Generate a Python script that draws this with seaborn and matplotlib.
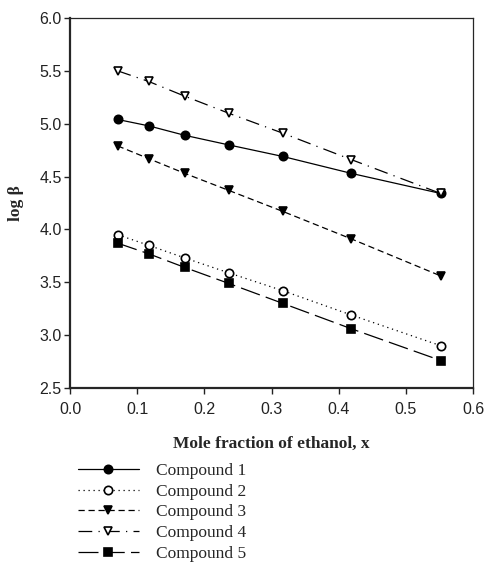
import pandas as pd
import seaborn as sns
import matplotlib.pyplot as plt

x_ethanol = [0.071, 0.117, 0.171, 0.236, 0.317, 0.419, 0.552]

compound_1 = [5.04, 4.98, 4.89, 4.80, 4.69, 4.53, 4.34]
compound_2 = [3.95, 3.85, 3.73, 3.59, 3.42, 3.19, 2.90]
compound_3 = [4.79, 4.67, 4.53, 4.37, 4.17, 3.91, 3.56]
compound_4 = [5.50, 5.40, 5.26, 5.10, 4.91, 4.66, 4.34]
compound_5 = [3.87, 3.77, 3.64, 3.49, 3.30, 3.06, 2.76]

labels = ['Compound 1', 'Compound 2', 'Compound 3', 'Compound 4', 'Compound 5']
series = [compound_1, compound_2, compound_3, compound_4, compound_5]

sns.set_style('ticks')
plt.rcParams['font.family'] = ['Liberation Sans', 'DejaVu Sans']

fig = plt.figure(figsize=(4.87, 5.69), dpi=100)
ax = fig.add_axes([70 / 487, 1 - 388 / 569, (473 - 70) / 487, (388 - 18) / 569])

# line style / marker for each compound
styles = [
    dict(linestyle='-', marker='o', mfc='black'),
    dict(linestyle=(0, (1, 3)), marker='o', mfc='white'),
    dict(linestyle=(0, (5, 3)), marker='v', mfc='black'),
    dict(linestyle=(0, (11, 5, 1, 5)), marker='v', mfc='white'),
    dict(linestyle=(0, (16, 5)), marker='s', mfc='black'),
]

for lab, vals, st in zip(labels, series, styles):
    df = pd.DataFrame({'x': x_ethanol, 'logb': vals})
    sns.lineplot(data=df, x='x', y='logb', ax=ax, color='black', linewidth=0.9,
                 linestyle=st['linestyle'], marker=st['marker'], markersize=6,
                 markerfacecolor=st['mfc'], markeredgecolor='black',
                 markeredgewidth=1.2, label=lab, legend=False)

ax.set_xlim(0, 0.6)
ax.set_ylim(2.5, 6.0)
ax.set_xticks([0.0, 0.1, 0.2, 0.3, 0.4, 0.5, 0.6])
ax.set_yticks([2.5, 3.0, 3.5, 4.0, 4.5, 5.0, 5.5, 6.0])
ax.xaxis.set_major_formatter(plt.FormatStrFormatter('%.1f'))
ax.yaxis.set_major_formatter(plt.FormatStrFormatter('%.1f'))
ax.tick_params(direction='out', length=4, width=1, labelsize=11.5,
               colors='#222222')
ax.tick_params(axis='x', pad=6)
ax.tick_params(axis='y', pad=2)

for side in ['left', 'bottom']:
    ax.spines[side].set_linewidth(1.6)
for side in ['top', 'right']:
    ax.spines[side].set_linewidth(0.9)

ax.set_xlabel('Mole fraction of ethanol, x', family='Liberation Serif',
              fontweight='bold', fontsize=12.5, labelpad=14)
ax.set_ylabel('log β', family='Liberation Serif', fontweight='bold',
              fontsize=12.5, labelpad=11)

handles, labs = ax.get_legend_handles_labels()
leg = fig.legend(handles, labs, loc='upper left', bbox_to_anchor=(78 / 487, 1 - 463 / 569),
                 frameon=False, prop={'family': 'Liberation Serif', 'size': 12.5},
                 handlelength=3.5, handletextpad=1.0, labelspacing=0.26,
                 borderpad=0, borderaxespad=0)

fig.savefig('out.png', dpi=100)
